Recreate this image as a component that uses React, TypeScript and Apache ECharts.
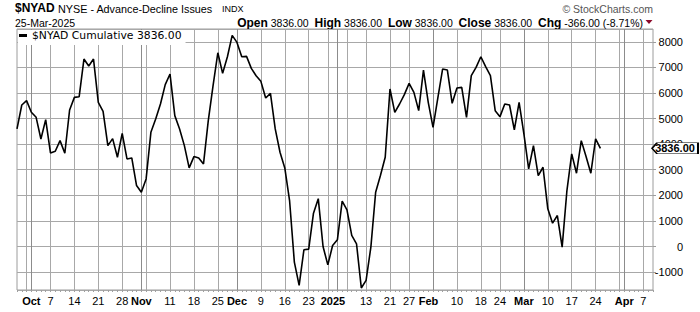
import React, { useEffect, useRef } from 'react';
import * as echarts from 'echarts';

const seriesName = '$NYAD Cumulative';

const dates = [
  'Sep 26', 'Sep 27', 'Sep 30',
  'Oct 1', 'Oct 2', 'Oct 3', 'Oct 4', 'Oct 7', 'Oct 8', 'Oct 9', 'Oct 10', 'Oct 11', 'Oct 14', 'Oct 15', 'Oct 16', 'Oct 17', 'Oct 18', 'Oct 21', 'Oct 22', 'Oct 23', 'Oct 24', 'Oct 25', 'Oct 28', 'Oct 29', 'Oct 30', 'Oct 31',
  'Nov 1', 'Nov 4', 'Nov 5', 'Nov 6', 'Nov 7', 'Nov 8', 'Nov 11', 'Nov 12', 'Nov 13', 'Nov 14', 'Nov 15', 'Nov 18', 'Nov 19', 'Nov 20', 'Nov 21', 'Nov 22', 'Nov 25', 'Nov 26', 'Nov 27', 'Nov 29',
  'Dec 2', 'Dec 3', 'Dec 4', 'Dec 5', 'Dec 6', 'Dec 9', 'Dec 10', 'Dec 11', 'Dec 12', 'Dec 13', 'Dec 16', 'Dec 17', 'Dec 18', 'Dec 19', 'Dec 20', 'Dec 23', 'Dec 24', 'Dec 26', 'Dec 27', 'Dec 30', 'Dec 31',
  'Jan 2', 'Jan 3', 'Jan 6', 'Jan 7', 'Jan 8', 'Jan 10', 'Jan 13', 'Jan 14', 'Jan 15', 'Jan 16', 'Jan 17', 'Jan 21', 'Jan 22', 'Jan 23', 'Jan 24', 'Jan 27', 'Jan 28', 'Jan 29', 'Jan 30', 'Jan 31',
  'Feb 3', 'Feb 4', 'Feb 5', 'Feb 6', 'Feb 7', 'Feb 10', 'Feb 11', 'Feb 12', 'Feb 13', 'Feb 14', 'Feb 18', 'Feb 19', 'Feb 20', 'Feb 21', 'Feb 24', 'Feb 25', 'Feb 26', 'Feb 27', 'Feb 28',
  'Mar 3', 'Mar 4', 'Mar 5', 'Mar 6', 'Mar 7', 'Mar 10', 'Mar 11', 'Mar 12', 'Mar 13', 'Mar 14', 'Mar 17', 'Mar 18', 'Mar 19', 'Mar 20', 'Mar 21', 'Mar 24', 'Mar 25', 'Mar 26', 'Mar 27', 'Mar 28', 'Mar 31',
  'Apr 1', 'Apr 2', 'Apr 3', 'Apr 4', 'Apr 7', 'Apr 8', 'Apr 9',
];

const values = [
  4600, 5530, 5700, 5244, 5049, 4203, 4958, 3657, 3722, 4138,
  3644, 5335, 5829, 5855, 7325, 7052, 7325, 5634, 5283, 3943,
  4216, 3488, 4424, 3423, 3462, 2382, 2122, 2642, 4463, 4984,
  5569, 6324, 6740, 5114, 4594, 3943, 3071, 3514, 3462, 3228,
  4919, 6285, 7572, 6766, 7416, 8250, 7976, 7416, 7429, 6961,
  6675, 6454, 5803, 5985, 4594, 3683, 3071, 1797, -610, -1520,
  -129, -103, 1302, 1870, 1, -720, 41, 262, 1771, 1433,
  431, 106, -1620, -1325, -24, 2122, 2772, 3488, 6155, 5244,
  5569, 5933, 6376, 6024, 5309, 6896, 5634, 4659, 5803, 6935,
  6896, 5595, 6193, 6219, 5049, 6675, 7000, 7416, 7026, 6675,
  5309, 5075, 5569, 5530, 4554, 5634, 4398, 3033, 3943, 2772,
  3098, 1472, 912, 1211, -24, 2187, 3618, 2863, 4138, 3514,
  2863, 4202, 3836,
];

const xLabelDates = ['Oct 1', 'Oct 7', 'Oct 14', 'Oct 21', 'Oct 28', 'Nov 1', 'Nov 11', 'Nov 18', 'Nov 25', 'Dec 2', 'Dec 9', 'Dec 16', 'Dec 23', 'Jan 2', 'Jan 13', 'Jan 21', 'Jan 27', 'Feb 3', 'Feb 10', 'Feb 18', 'Feb 24', 'Mar 3', 'Mar 10', 'Mar 17', 'Mar 24', 'Apr 1', 'Apr 7'];
const xLabelTexts = ['Oct', '7', '14', '21', '28', 'Nov', '11', '18', '25', 'Dec', '9', '16', '23', '2025', '13', '21', '27', 'Feb', '10', '18', '24', 'Mar', '10', '17', '24', 'Apr', '7'];
const shiftedLabels = ['2025', 'Feb'];
const monthStarts = ['Oct 1', 'Nov 1', 'Dec 2', 'Jan 2', 'Feb 3', 'Mar 3', 'Apr 1'];
const weekStarts = ['Sep 30', 'Oct 7', 'Oct 14', 'Oct 21', 'Oct 28', 'Nov 4', 'Nov 11', 'Nov 18', 'Nov 25', 'Dec 2', 'Dec 9', 'Dec 16', 'Dec 23', 'Dec 30', 'Jan 6', 'Jan 13', 'Jan 21', 'Jan 27', 'Feb 3', 'Feb 10', 'Feb 18', 'Feb 24', 'Mar 3', 'Mar 10', 'Mar 17', 'Mar 24', 'Mar 31', 'Apr 7'];

const yMin = -1700;
const yMax = 8500;

const SANS = '"Liberation Sans", Arial, Helvetica, sans-serif';

export default function App() {
  const ref = useRef<HTMLDivElement>(null);

  useEffect(() => {
    document.body.style.margin = '0';
    const chart = echarts.init(ref.current as HTMLDivElement, null, { renderer: 'svg' });
    const last = values[values.length - 1];
    const prev = values[values.length - 2];
    const chg = last - prev;
    const pct = (chg / prev) * 100;
    const f2 = (v: number) => v.toFixed(2);

    const option: any = {
      animation: false,
      backgroundColor: '#ffffff',
      textStyle: { fontFamily: SANS },
      grid: {
        left: 17, right: 47, top: 29, bottom: 22,
        show: true, borderColor: '#9c9c9c', borderWidth: 1, backgroundColor: 'rgba(0,0,0,0)',
      },
      legend: {
        left: 18, top: 30, padding: [0, 4, 4, 1],
        backgroundColor: '#ffffff',
        icon: 'rect', itemWidth: 8, itemHeight: 3,
        textStyle: { fontFamily: '"DejaVu Sans", Verdana, sans-serif', fontSize: 10.8, color: '#000', lineHeight: 11 },
        formatter: (name: string) => `${name} ${f2(last)}`,
        data: [{ name: seriesName, itemStyle: { color: '#000' } }],
        selectedMode: false,
      },
      xAxis: [
        {
          type: 'category', data: dates, boundaryGap: false, position: 'bottom',
          axisLine: { show: false, onZero: false },
          axisTick: { show: true, interval: 0, length: 2, lineStyle: { color: '#a0a0a0' } },
          axisLabel: {
            interval: (i: number, v: string) => xLabelDates.includes(v),
            margin: 5,
            fontSize: 11, color: '#000', fontFamily: SANS,
            formatter: (v: string) => {
              const k = xLabelDates.indexOf(v);
              if (k < 0) return '';
              const t = xLabelTexts[k];
              if (shiftedLabels.includes(t)) return `{bs|${t}}`;
              if (monthStarts.includes(v)) return `{b|${t}}`;
              return `{n|${t}}`;
            },
            rich: {
              n: { fontSize: 11, color: '#000', fontFamily: SANS },
              b: { fontSize: 11, color: '#000', fontFamily: SANS, fontWeight: 'bold' },
              bs: { fontSize: 11, color: '#000', fontFamily: SANS, fontWeight: 'bold', padding: [0, 9, 0, 0] },
            },
          },
          splitLine: {
            show: true,
            interval: (i: number, v: string) => monthStarts.includes(v),
            lineStyle: { color: '#8c8c8c', width: 1 },
          },
        },
        {
          type: 'category', data: dates, boundaryGap: false, position: 'top',
          axisLine: { show: false, onZero: false }, axisTick: { show: false },
          axisLabel: { show: false, interval: 0 },
          splitLine: {
            show: true,
            interval: (i: number, v: string) => weekStarts.includes(v) && !monthStarts.includes(v),
            lineStyle: { color: '#a8a8a8', width: 1 },
          },
        },
      ],
      yAxis: {
        type: 'value', position: 'right',
        min: yMin, max: yMax, splitNumber: 10, minInterval: 1000, maxInterval: 1000,
        axisLine: { show: false },
        axisTick: { show: true, length: 3, lineStyle: { color: '#9c9c9c' } },
        axisLabel: {
          showMinLabel: false, showMaxLabel: false,
          align: 'right', margin: 30, fontSize: 11, color: '#000', fontFamily: SANS,
          formatter: (v: number) => String(v),
        },
        splitLine: { show: true, lineStyle: { color: '#a8a8a8', width: 1 } },
      },
      series: [
        {
          type: 'line', name: seriesName, data: values,
          xAxisIndex: 0, yAxisIndex: 0,
          showSymbol: false, symbol: 'none',
          lineStyle: { color: '#000', width: 1.6 },
          itemStyle: { color: '#000' },
          z: 3,
          markPoint: {
            symbol: 'path://M0,5.5L5,0L46,0L46,11L5,11Z',
            symbolSize: [46, 11],
            symbolKeepAspect: false,
            symbolOffset: [22, 0],
            itemStyle: { color: '#fff', borderColor: '#000', borderWidth: 1 },
            label: {
              show: true, position: 'inside',
              formatter: () => f2(last),
              color: '#000', fontWeight: 'bold', fontSize: 11, fontFamily: SANS,
              offset: [0, 0],
            },
            data: [{ coord: [dates[dates.length - 1], last], value: last }],
            z: 10,
          },
        },
      ],
      graphic: [
        {
          type: 'text', x: 15, y: 8,
          style: { text: '$NYAD', fontSize: 12, fontWeight: 'bold', fontFamily: SANS, fill: '#000', verticalAlign: 'middle', textVerticalAlign: 'middle' },
        },
        {
          type: 'text', x: 58, y: 8.5,
          style: { text: 'NYSE - Advance-Decline Issues', fontSize: 10.8, fontFamily: SANS, fill: '#000', verticalAlign: 'middle', textVerticalAlign: 'middle' },
        },
        {
          type: 'text', x: 222, y: 9,
          style: { text: 'INDX', fontSize: 9, fontFamily: SANS, fill: '#000', verticalAlign: 'middle', textVerticalAlign: 'middle' },
        },
        {
          type: 'text', x: 15, y: 22.5,
          style: { text: '25-Mar-2025', fontSize: 10.5, fontFamily: SANS, fill: '#000', verticalAlign: 'middle', textVerticalAlign: 'middle' },
        },
        {
          type: 'text', x: 643, y: 22.5,
          style: {
            text: `{l|Open} {v|${f2(last)}}  {l|High} {v|${f2(last)}}  {l|Low} {v|${f2(last)}}  {l|Close} {v|${f2(last)}}  {l|Chg} {v|${f2(chg)} (${f2(pct)}%)}`,
            fontSize: 10.5, fontFamily: SANS, fill: '#000',
            align: 'right', textAlign: 'right', verticalAlign: 'middle', textVerticalAlign: 'middle',
            rich: {
              l: { fontSize: 12, fontWeight: 'bold', fontFamily: SANS, fill: '#000', color: '#000' },
              v: { fontSize: 10.5, fontFamily: SANS, fill: '#000', color: '#000' },
            },
          },
        },
        {
          type: 'polygon',
          shape: { points: [[645.5, 20], [652.5, 20], [649, 24]] },
          style: { fill: '#8b0a2a' },
        },
        {
          type: 'text', x: 653, y: 9,
          style: { text: '© StockCharts.com', fontSize: 10.5, fontFamily: SANS, fill: '#555', align: 'right', textAlign: 'right', verticalAlign: 'middle', textVerticalAlign: 'middle' },
        },
      ],
    };

    chart.setOption(option);
    return () => chart.dispose();
  }, []);

  return (
    <div
      ref={ref}
      style={{ position: 'fixed', left: 0, top: 0, width: 700, height: 312, background: '#fff' }}
    />
  );
}
